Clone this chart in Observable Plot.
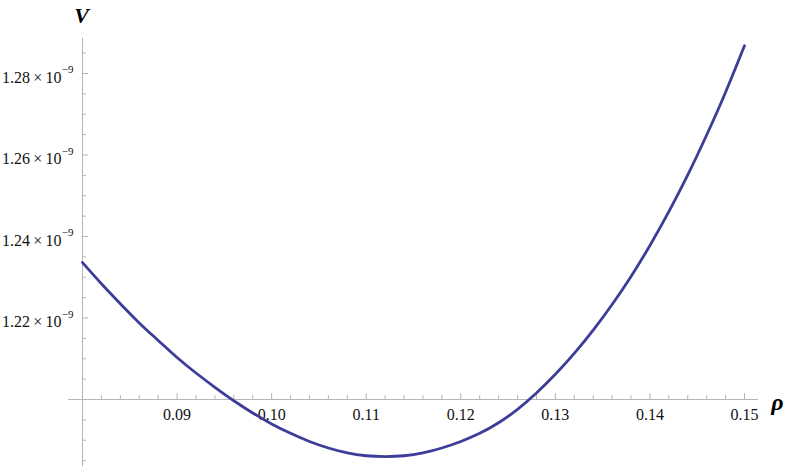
<!DOCTYPE html>
<html>
<head>
<meta charset="utf-8">
<script src="https://cdn.jsdelivr.net/npm/d3@7"></script>
<script src="https://cdn.jsdelivr.net/npm/@observablehq/plot@0.6"></script>
<style>
  html, body { margin: 0; padding: 0; background: #fff; }
  #chart svg { display: block; }
  #chart svg text { font-family: "Liberation Serif", "DejaVu Serif", serif; }
</style>
</head>
<body>
<div id="chart"></div>
<script>
// rho values and potential V (in units of 1e-9)
const rho = [0.080, 0.082, 0.084, 0.086, 0.088, 0.090, 0.092, 0.094, 0.096, 0.098,
             0.100, 0.102, 0.104, 0.106, 0.108, 0.110, 0.112, 0.114, 0.116, 0.118,
             0.120, 0.122, 0.124, 0.126, 0.128, 0.130, 0.132, 0.134, 0.136, 0.138,
             0.140, 0.142, 0.144, 0.146, 0.148, 0.150];
const V = [1.2336, 1.2284, 1.2235, 1.2188, 1.2145, 1.2103, 1.2065, 1.2030, 1.1997, 1.1967,
           1.1940, 1.1917, 1.1897, 1.1881, 1.1869, 1.1862, 1.1860, 1.1862, 1.1869, 1.1881,
           1.1897, 1.1917, 1.1943, 1.1976, 1.2016, 1.2062, 1.2113, 1.2170, 1.2233, 1.2302,
           1.2378, 1.2461, 1.2551, 1.2649, 1.2754, 1.2868];

// axis ticks
const xMajor = [0.09, 0.10, 0.11, 0.12, 0.13, 0.14, 0.15];
const xMajorLabels = ["0.09", "0.10", "0.11", "0.12", "0.13", "0.14", "0.15"];
const xMinor = [0.082, 0.084, 0.086, 0.088, 0.092, 0.094, 0.096, 0.098,
                0.102, 0.104, 0.106, 0.108, 0.112, 0.114, 0.116, 0.118,
                0.122, 0.124, 0.126, 0.128, 0.132, 0.134, 0.136, 0.138,
                0.142, 0.144, 0.146, 0.148];
const yMajor = [1.22, 1.24, 1.26, 1.28];
const yMajorLabels = ["1.22", "1.24", "1.26", "1.28"];
const yExponent = "\u22129";
const yMinor = [1.185, 1.19, 1.195, 1.205, 1.21, 1.215, 1.225, 1.23, 1.235,
                1.245, 1.25, 1.255, 1.265, 1.27, 1.275, 1.285];

// axis extents and origin
const xOrigin = 0.08, yOrigin = 1.20;
const xAxisExtent = [0.07852, 0.15148];
const yAxisExtent = [1.170, 1.2886];

const data = rho.map((r, i) => ({rho: r, V: V[i]}));

const axisColor = "#b5b5b5";
const font = "Liberation Serif";

const chart = Plot.plot({
  width: 789,
  height: 466,
  style: {background: "#fff", overflow: "hidden"},
  x: {domain: [0.08, 0.15], range: [82, 744], axis: null},
  y: {domain: [1.20, 1.28], range: [399, 73], axis: null},
  marks: [
    // axis lines
    Plot.ruleY([yOrigin], {x1: xAxisExtent[0], x2: xAxisExtent[1], stroke: axisColor, strokeWidth: 1}),
    Plot.ruleX([xOrigin], {y1: yAxisExtent[0], y2: yAxisExtent[1], stroke: axisColor, strokeWidth: 1}),
    // x ticks (pointing up)
    Plot.ruleX(xMajor, {x: d => d, y1: () => yOrigin, y2: () => yOrigin, insetTop: -6, stroke: axisColor}),
    Plot.ruleX(xMinor, {x: d => d, y1: () => yOrigin, y2: () => yOrigin, insetTop: -4, stroke: axisColor}),
    // y ticks (pointing right)
    Plot.ruleY(yMajor, {y: d => d, x1: () => xOrigin, x2: () => xOrigin, insetRight: -6, stroke: axisColor}),
    Plot.ruleY(yMinor, {y: d => d, x1: () => xOrigin, x2: () => xOrigin, insetRight: -4, stroke: axisColor}),
    // x tick labels
    Plot.text(xMajor, {x: d => d, y: () => yOrigin, text: (d, i) => xMajorLabels[i], dy: 15, fontSize: 16, fontFamily: font, fill: "#111"}),
    // y tick labels: mantissa × 10 and exponent
    Plot.text(yMajor, {x: () => xOrigin, y: d => d, text: (d, i) => yMajorLabels[i] + "\u2009\u00d7\u200910", textAnchor: "end", dx: -21, dy: 4, fontSize: 16, fontFamily: font, fill: "#111"}),
    Plot.text(yMajor, {x: () => xOrigin, y: d => d, text: () => yExponent, textAnchor: "end", dx: -9, dy: -4, fontSize: 11, fontFamily: font, fill: "#111"}),
    // axis titles
    Plot.text(["V"], {x: () => xOrigin, y: () => yAxisExtent[1], text: d => d, dy: -23, dx: -1, fontSize: 22, fontWeight: "bold", fontStyle: "italic", fontFamily: font, fill: "#000"}),
    Plot.text(["\u03c1"], {x: () => xAxisExtent[1], y: () => yOrigin, text: d => d, dx: 19, dy: 3, fontSize: 24, fontWeight: "bold", fontStyle: "italic", fontFamily: font, fill: "#000"}),
    // curve
    Plot.line(data, {x: "rho", y: "V", stroke: "#3d3d99", strokeWidth: 2.8, curve: "natural"})
  ]
});

document.getElementById("chart").appendChild(chart);
</script>
</body>
</html>
